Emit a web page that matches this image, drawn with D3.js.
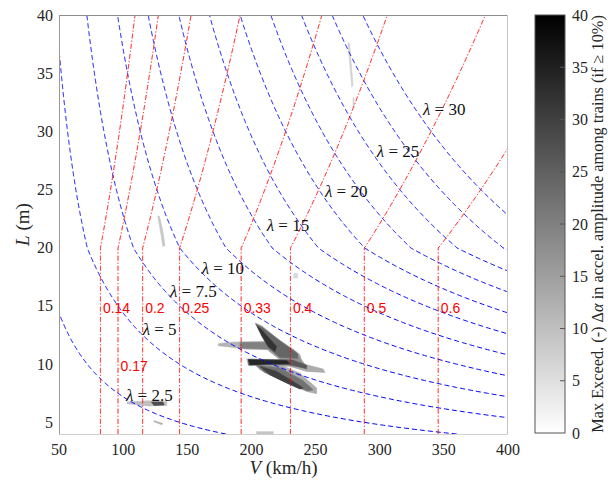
<!DOCTYPE html>
<html><head><meta charset="utf-8">
<script src="https://cdn.jsdelivr.net/npm/d3@7"></script>
<style>
body{margin:0;background:#fff;}
svg{display:block;}
</style></head><body>
<svg id="chart" width="608" height="481"></svg>
<script>
// ---------------- data ----------------
const lambdaValues = [2.5, 5, 7.5, 10, 12.5, 15, 17.5, 20, 22.5, 25, 27.5, 30];
const speedParamK = [1/7, 1/6, 1/5, 1/4, 1/3, 0.4, 0.5, 0.6];
const speedParamLabels = ["0.14", "0.17", "0.2", "0.25", "0.33", "0.4", "0.5", "0.6"];
const speedParamLabelL = [15, 10, 15, 15, 15, 15, 15, 15];
const lambdaLabels = ["2.5", "5", "7.5", "10", "15", "20", "25", "30"];
const lambdaLabelV = [102.2, 115.2, 136.5, 161.2, 211.9, 257.3, 297.7, 333.7];
const lambdaLabelL = [6.84, 12.48, 15.77, 17.78, 21.44, 24.36, 27.8, 31.38];
const xTicks = [50, 100, 150, 200, 250, 300, 350, 400];
const yTicks = [5, 10, 15, 20, 25, 30, 35, 40];
const cbTicks = [0, 5, 10, 15, 20, 25, 30, 35, 40];
// exceedance regions (V km/h, L m), value = max exceedance (%)
const exceedValues = [12, 15, 13, 13, 17, 20, 24, 22, 26, 32, 30, 34, 10, 28, 12, 9, 7, 7, 6, 9];
const exceedShapes = [
  [[174.2,11.75],[183.3,11.89],[213.1,11.98],[213.1,11.24],[196.3,11.29],[183.3,11.47],[174.2,11.58]],
  [[202.8,13.53],[207.9,13.30],[222.2,12.04],[232.6,11.29],[237.8,10.81],[239.1,10.24],[222.2,10.38],[213.1,11.18],[209.3,12.32]],
  [[196.3,10.44],[230.0,10.38],[243.0,9.95],[256.0,9.58],[257.3,9.29],[243.0,9.38],[230.0,9.81],[197.6,9.89]],
  [[201.5,10.09],[222.2,9.95],[237.8,9.23],[250.8,7.95],[250.8,7.46],[243.0,7.66],[222.2,8.66],[206.7,9.52]],
  [[222.2,11.24],[232.6,11.24],[237.8,10.52],[243.0,9.81],[232.6,9.81],[222.2,10.24]],
  [[191.1,11.87],[213.1,11.87],[213.1,11.29],[191.1,11.38]],
  [[203.5,13.45],[209,13.1],[226,11.7],[236,10.9],[236,10.5],[222,10.6],[214,11.3],[208,12.4]],
  [[204,9.9],[222,9.7],[240,8.6],[248,7.8],[244,7.7],[226,8.5],[210,9.3]],
  [[197.6,10.42],[232,10.36],[243,9.9],[243,9.6],[230,9.95],[198,9.92]],
  [[204.6,13.24],[207.9,12.95],[219.6,11.52],[218.3,11.09],[213.1,11.52],[207.9,12.52]],
  [[206.7,9.81],[219.6,9.38],[232.6,8.52],[240.4,7.95],[237.8,7.86],[227.4,8.38],[214.4,9.09]],
  [[197.6,10.38],[227.4,10.29],[230.0,10.04],[211.8,10.01],[198.9,9.95]],
  [[103,6.75],[120,6.85],[134,6.8],[134,6.45],[120,6.4],[103,6.6]],
  [[122,6.75],[131,6.75],[132,6.5],[124,6.45]],
  [[124,5.15],[131,4.9],[130,4.8],[124,5.05]],
  [[127,22.7],[128.3,22.7],[130.8,21.5],[132.6,20.2],[131,20.1],[129,21.5]],
  [[275.2,37.6],[276.4,37.6],[279.2,34],[278.2,33.8]],
  [[279.2,32.9],[280,32.9],[280,32.1],[279.2,32.1]],
  [[233,17.8],[236,17.8],[236,17.4],[233,17.4]],
  [[204,4.2],[217,4.2],[217,4.0],[204,4.0]]
];

// lower-bound natural frequency of the bridge (Hz) vs span L (m)
function n0(L) { return L <= 20 ? 80 / L : 23.58 * Math.pow(L, -0.592); }

// ---------------- layout ----------------
const svg = d3.select("#chart");
const M = {left: 59, right: 508, top: 15, bottom: 434};
const x = d3.scaleLinear().domain([50, 400]).range([M.left, M.right]);
const y = d3.scaleLinear().domain([4, 40]).range([M.bottom, M.top]);
const color = d3.scaleLinear().domain([0, 40]).range(["#ffffff", "#000000"]);
const serif = "'Liberation Serif', 'Times New Roman', serif";
const sans = "'Liberation Sans', Arial, sans-serif";
const textCol = "#262626";

svg.append("defs").append("clipPath").attr("id", "plotclip")
  .append("rect").attr("x", M.left).attr("y", M.top)
  .attr("width", M.right - M.left).attr("height", M.bottom - M.top);

const plot = svg.append("g").attr("clip-path", "url(#plotclip)");

// exceedance map
const poly = d3.line().x(d => x(d[0])).y(d => y(d[1])).curve(d3.curveLinearClosed);
const order = d3.range(exceedShapes.length).sort((a, b) => exceedValues[a] - exceedValues[b]);
plot.append("g").selectAll("path").data(order).join("path")
  .attr("d", i => poly(exceedShapes[i]))
  .attr("fill", i => color(exceedValues[i]))
  .attr("stroke", i => color(exceedValues[i]))
  .attr("stroke-width", 0.6);

const Ls = d3.range(4, 40.0001, 0.05);
const curve = d3.line().x(d => x(d[0])).y(d => y(d[1]));

// lambda iso-lines (wavelength / bridge frequency)
plot.append("g").selectAll("path").data(lambdaValues).join("path")
  .attr("d", lam => curve(Ls.map(L => [3.6 * lam * n0(L), L])))
  .attr("fill", "none").attr("stroke", "#0000ff").attr("stroke-width", 1)
  .attr("stroke-dasharray", "5,3");

// speed parameter lines K = V / (2 n0 L)
plot.append("g").selectAll("path").data(speedParamK).join("path")
  .attr("d", K => curve(Ls.map(L => [3.6 * K * 2 * n0(L) * L, L])))
  .attr("fill", "none").attr("stroke", "#ff0000").attr("stroke-width", 1)
  .attr("stroke-dasharray", "5,2,1.2,2");

// red labels
svg.append("g").selectAll("text").data(speedParamK).join("text")
  .attr("x", (K, i) => x(3.6 * K * 2 * n0(speedParamLabelL[i]) * speedParamLabelL[i]) + 2.5)
  .attr("y", (K, i) => y(speedParamLabelL[i]) + 7)
  .attr("font-family", sans).attr("font-size", 14).attr("fill", "#ff0000")
  .text((K, i) => speedParamLabels[i]);

// lambda labels
const lt = svg.append("g").selectAll("text").data(lambdaLabels).join("text")
  .attr("x", (d, i) => x(lambdaLabelV[i]))
  .attr("y", (d, i) => y(lambdaLabelL[i]))
  .attr("font-family", serif).attr("font-size", 17).attr("fill", "#111");
lt.append("tspan").attr("font-style", "italic").text("λ");
lt.append("tspan").text(d => " = " + d);

// frame
const frame = svg.append("g").attr("fill", "none").attr("stroke-width", 1);
frame.append("line").attr("x1", M.left).attr("x2", M.right).attr("y1", M.top + 0.5).attr("y2", M.top + 0.5).attr("stroke", "#8c8c8c");
frame.append("line").attr("x1", M.left + 0.5).attr("x2", M.left + 0.5).attr("y1", M.top).attr("y2", M.bottom).attr("stroke", "#999");
frame.append("line").attr("x1", M.right - 0.5).attr("x2", M.right - 0.5).attr("y1", M.top).attr("y2", M.bottom).attr("stroke", "#c4c4c4");
frame.append("line").attr("x1", M.left).attr("x2", M.right).attr("y1", M.bottom + 0.5).attr("y2", M.bottom + 0.5).attr("stroke", "#d0d0d0");

// tick labels
svg.append("g").selectAll("text").data(xTicks).join("text")
  .attr("x", d => x(d)).attr("y", 455).attr("text-anchor", "middle")
  .attr("font-family", serif).attr("font-size", 16).attr("fill", textCol).text(d => d);
svg.append("g").selectAll("text").data(yTicks).join("text")
  .attr("x", 53).attr("y", d => y(d) + 5.5).attr("text-anchor", "end")
  .attr("font-family", serif).attr("font-size", 16).attr("fill", textCol).text(d => d);

// axis titles
const xt = svg.append("text").attr("x", (M.left + M.right) / 2).attr("y", 474)
  .attr("text-anchor", "middle").attr("font-family", serif).attr("font-size", 19).attr("fill", textCol);
xt.append("tspan").attr("font-style", "italic").text("V");
xt.append("tspan").text(" (km/h)");
const yt = svg.append("text").attr("transform", `translate(29,${(M.top + M.bottom) / 2}) rotate(-90)`)
  .attr("text-anchor", "middle").attr("font-family", serif).attr("font-size", 19).attr("fill", textCol);
yt.append("tspan").attr("font-style", "italic").text("L");
yt.append("tspan").text(" (m)");

// colorbar
const cb = {x0: 535, x1: 565};
const cy = d3.scaleLinear().domain([0, 40]).range([433, 15]);
const grad = svg.select("defs").append("linearGradient").attr("id", "cbgrad")
  .attr("x1", 0).attr("y1", 1).attr("x2", 0).attr("y2", 0);
grad.selectAll("stop").data(cbTicks).join("stop")
  .attr("offset", d => d / 40).attr("stop-color", d => color(d));
svg.append("rect").attr("x", cb.x0).attr("y", cy(40)).attr("width", cb.x1 - cb.x0)
  .attr("height", cy(0) - cy(40)).attr("fill", "url(#cbgrad)")
  .attr("stroke", "#555").attr("stroke-width", 1);
svg.append("g").selectAll("line").data(cbTicks.slice(1, -1)).join("line")
  .attr("x1", cb.x1 - 5).attr("x2", cb.x1).attr("y1", d => cy(d)).attr("y2", d => cy(d))
  .attr("stroke", "#555");
svg.append("g").selectAll("text").data(cbTicks).join("text")
  .attr("x", 572).attr("y", d => cy(d) + 5.5)
  .attr("font-family", serif).attr("font-size", 16).attr("fill", textCol).text(d => d);
const cbl = svg.append("text").attr("transform", "translate(603,224) rotate(-90)")
  .attr("text-anchor", "middle").attr("font-family", serif).attr("font-size", 16).attr("fill", textCol);
cbl.append("tspan").text("Max Exceed. (-) Δ");
cbl.append("tspan").attr("font-style", "italic").text("α");
cbl.append("tspan").text(" in accel. amplitude among trains (if ≥ 10%)");
const len = cbl.node().getComputedTextLength();
cbl.attr("font-size", 16 * 418 / len);
</script>
</body></html>
